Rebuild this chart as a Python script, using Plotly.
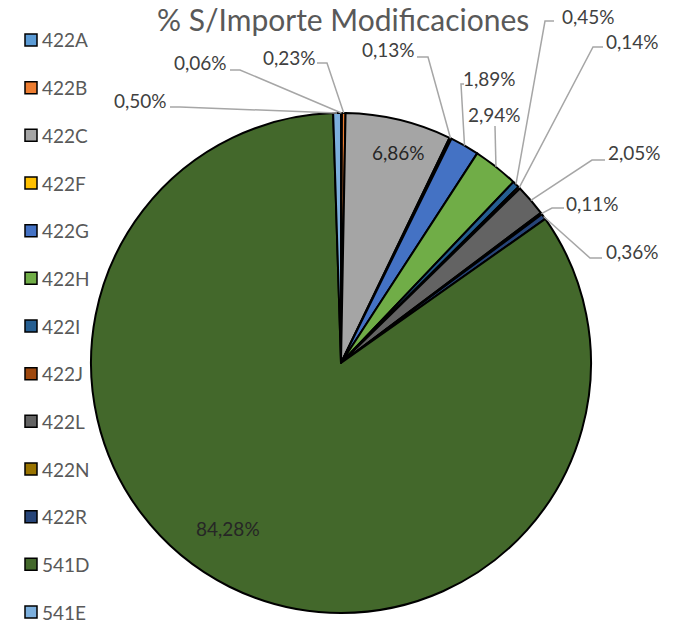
import math
import plotly.graph_objects as go

# ---------------- data ----------------
categories = ["422A", "422B", "422C", "422F", "422G", "422H", "422I",
              "422J", "422L", "422N", "422R", "541D", "541E"]
percentages = [0.06, 0.23, 6.86, 0.13, 1.89, 2.94, 0.45,
               0.14, 2.05, 0.11, 0.36, 84.28, 0.50]
title_text = "% S/Importe Modificaciones"

# ---------------- style ----------------
colors = ["#5B9BD5", "#ED7D31", "#A5A5A5", "#FFC000", "#4472C4", "#70AD47",
          "#255E91", "#9E480E", "#636363", "#997300", "#264478", "#43682B",
          "#7CAFDD"]

W, H = 683, 637              # figure size (body margin removed below)
CX, CY, R = 341, 363, 250    # pie centre / radius in pixels
FONT = "Lato"

# label placement (pixels: text centre, leader start, elbow x)
LABEL_LAYOUT = {
    "422A": dict(text=(200, 63), start=(230, 70), elbow=240),
    "422B": dict(text=(289, 57), start=(317, 63), elbow=327),
    "422C": dict(text=(398, 152)),
    "422F": dict(text=(388, 50), start=(417, 57), elbow=428),
    "422G": dict(text=(489, 78), start=(464, 84), elbow=461),
    "422H": dict(text=(494, 115), start=(495, 126), elbow=495),
    "422I": dict(text=(588, 16), start=(554, 21), elbow=545),
    "422J": dict(text=(632, 42), start=(603, 47), elbow=593),
    "422L": dict(text=(634, 152), start=(605, 160), elbow=592),
    "422N": dict(text=(592, 203), start=(564, 208), elbow=552),
    "422R": dict(text=(632, 252), start=(602, 258), elbow=590),
    "541D": dict(text=(228, 528)),
    "541E": dict(text=(140, 100), start=(170, 107), elbow=180),
}


def px(x):
    return x / W


def py(y):
    return 1 - y / H


fig = go.Figure(go.Pie(
    labels=categories,
    values=percentages,
    sort=False,
    direction="clockwise",
    rotation=0,
    marker=dict(colors=colors, line=dict(color="black", width=2)),
    textinfo="none",
    hoverinfo="label+percent",
    showlegend=False,
    domain=dict(x=[px(CX - R), px(CX + R)], y=[py(CY + R), py(CY - R)]),
))

annotations = []
shapes = []

total = sum(percentages)
cum = 0.0
for cat, val in zip(categories, percentages):
    mid = (cum + val / 2) / total * 2 * math.pi
    cum += val
    ex, ey = CX + R * math.sin(mid), CY - R * math.cos(mid)
    lay = LABEL_LAYOUT[cat]
    tx, ty = lay["text"]
    label = f"{val:.2f}".replace(".", ",") + "%"
    inside = "start" not in lay
    annotations.append(dict(
        x=px(tx), y=py(ty), xref="paper", yref="paper", text=label,
        showarrow=False, xanchor="center", yanchor="middle",
        font=dict(family=FONT, size=19, color="#262626" if inside else "#404040"),
    ))
    if not inside:
        sx, sy = lay["start"]
        elx = lay["elbow"]
        path = (f"M {px(sx)} {py(sy)} L {px(elx)} {py(sy)} "
                f"L {px(ex)} {py(ey)}")
        shapes.append(dict(type="path", xref="paper", yref="paper", path=path,
                           line=dict(color="#A6A6A6", width=1.5)))

# manual legend on the left
LEG_Y0, LEG_STEP = 40, 47.67
for i, (cat, col) in enumerate(zip(categories, colors)):
    y = LEG_Y0 + i * LEG_STEP
    shapes.append(dict(type="rect", xref="paper", yref="paper",
                       x0=px(25), x1=px(37), y0=py(y + 6), y1=py(y - 6),
                       fillcolor=col, line=dict(color="black", width=1.5)))
    annotations.append(dict(
        x=px(40), y=py(y), xref="paper", yref="paper", text=cat,
        showarrow=False, xanchor="left", yanchor="middle",
        font=dict(family=FONT, size=19, color="#595959"),
    ))

annotations.append(dict(
    x=px(343), y=py(19), xref="paper", yref="paper", text=title_text,
    showarrow=False, xanchor="center", yanchor="middle",
    font=dict(family=FONT, size=30, color="#595959"),
))

fig.update_layout(
    width=W, height=H,
    margin=dict(l=0, r=0, t=0, b=0),
    paper_bgcolor="white", plot_bgcolor="white",
    annotations=annotations, shapes=shapes,
)

fig.write_html(
    "out.html",
    config={"displayModeBar": False},
    post_script="document.body.style.margin='0';"
                "document.documentElement.style.overflow='hidden';",
)
